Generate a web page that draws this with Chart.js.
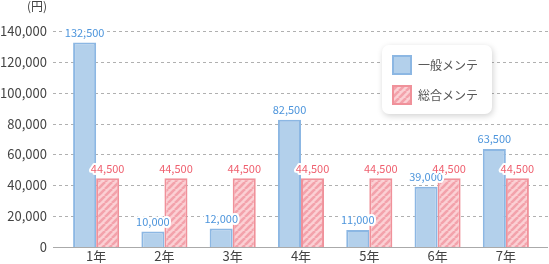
<!DOCTYPE html>
<html>
<head>
<meta charset="utf-8">
<script src="https://cdn.jsdelivr.net/npm/chart.js@4"></script>
<style>
  html, body { margin: 0; padding: 0; background: #fff; }
  #wrap { width: 549px; height: 264px; position: relative; }
</style>
</head>
<body>
<div id="wrap"><canvas id="chart"></canvas></div>
<script>
const years = ['1年', '2年', '3年', '4年', '5年', '6年', '7年'];
const generalCost = [132500, 10000, 12000, 82500, 11000, 39000, 63500];
const totalCost = [44500, 44500, 44500, 44500, 44500, 44500, 44500];
const seriesNames = ['一般メンテ', '総合メンテ'];
const yTicks = [0, 20000, 40000, 60000, 80000, 100000, 120000, 140000];

const FONT = "'Noto Sans CJK JP', 'Noto Sans', sans-serif";
const BLUE_FILL = '#b3d0eb';
const BLUE_LINE = '#8cb7e3';
const BLUE_TEXT = '#4d95dc';
const PINK_LINE = '#f0919a';
const PINK_TEXT = '#ef5f6e';

// diagonal stripe fill for the pink series
function makeStripes() {
  const c = document.createElement('canvas');
  c.width = 7; c.height = 7;
  const g = c.getContext('2d');
  g.fillStyle = '#fbd0d4';
  g.fillRect(0, 0, 7, 7);
  g.strokeStyle = '#f3a2ab';
  g.lineWidth = 2.6;
  for (let k = -7; k <= 14; k += 7) {
    g.beginPath();
    g.moveTo(k, 7);
    g.lineTo(k + 7, 0);
    g.stroke();
  }
  return g.createPattern(c, 'repeat');
}
const stripes = makeStripes();

const fmt = v => v.toLocaleString('en-US');

// dashed grid lines + base line, a bit wider than the bar area
const gridPlugin = {
  id: 'grid',
  beforeDatasetsDraw(chart) {
    const { ctx, scales: { y } } = chart;
    const x0 = 53, x1 = 548;
    ctx.save();
    ctx.strokeStyle = '#b0b0b0';
    ctx.lineWidth = 1;
    ctx.setLineDash([3, 3]);
    yTicks.forEach(t => {
      if (t === 0) return;
      const py = Math.round(y.getPixelForValue(t)) + 0.5;
      ctx.beginPath();
      ctx.moveTo(x0, py);
      ctx.lineTo(x1, py);
      ctx.stroke();
    });
    ctx.setLineDash([]);
    ctx.strokeStyle = '#aaaaaa';
    const by = Math.round(y.getPixelForValue(0)) + 0.5;
    ctx.beginPath();
    ctx.moveTo(x0, by);
    ctx.lineTo(x1, by);
    ctx.stroke();
    ctx.restore();
  }
};

// value labels above each bar, white halo
const labelPlugin = {
  id: 'valueLabels',
  afterDatasetsDraw(chart) {
    const { ctx } = chart;
    ctx.save();
    ctx.font = '11px ' + FONT;
    ctx.textAlign = 'center';
    ctx.textBaseline = 'middle';
    ctx.lineJoin = 'round';
    chart.data.datasets.forEach((ds, i) => {
      const meta = chart.getDatasetMeta(i);
      meta.data.forEach((bar, j) => {
        const txt = fmt(ds.data[j]);
        const ty = bar.y - 10;
        ctx.strokeStyle = '#fff';
        ctx.lineWidth = 4;
        ctx.strokeText(txt, bar.x, ty);
        ctx.fillStyle = ds.labelColor;
        ctx.fillText(txt, bar.x, ty);
      });
    });
    ctx.restore();
  }
};

// unit label and the floating legend box
const extrasPlugin = {
  id: 'extras',
  afterDraw(chart) {
    const { ctx } = chart;
    ctx.save();
    ctx.font = '12px ' + FONT;
    ctx.fillStyle = '#444';
    ctx.textAlign = 'left';
    ctx.textBaseline = 'middle';
    ctx.fillText('(円)', 27, 6);

    const bx = 382, by = 45, bw = 110, bh = 69;
    ctx.shadowColor = 'rgba(0,0,0,0.18)';
    ctx.shadowBlur = 6;
    ctx.shadowOffsetX = 1;
    ctx.shadowOffsetY = 2;
    ctx.fillStyle = '#fff';
    ctx.beginPath();
    ctx.roundRect(bx, by, bw, bh, 7);
    ctx.fill();
    ctx.shadowColor = 'transparent';

    chart.data.datasets.forEach((ds, i) => {
      const sy = 55 + i * 30;
      ctx.fillStyle = ds.backgroundColor;
      ctx.fillRect(392, sy, 20, 20);
      ctx.strokeStyle = ds.borderColor;
      ctx.lineWidth = 2;
      ctx.strokeRect(393, sy + 1, 18, 18);
      ctx.fillStyle = '#555';
      ctx.font = '12px ' + FONT;
      ctx.fillText(ds.label, 418, sy + 10);
    });
    ctx.restore();
  }
};

new Chart(document.getElementById('chart'), {
  type: 'bar',
  data: {
    labels: years,
    datasets: [
      {
        label: seriesNames[0],
        data: generalCost,
        backgroundColor: BLUE_FILL,
        borderColor: BLUE_LINE,
        borderWidth: 2,
        labelColor: BLUE_TEXT
      },
      {
        label: seriesNames[1],
        data: totalCost,
        backgroundColor: stripes,
        borderColor: PINK_LINE,
        borderWidth: 2,
        labelColor: PINK_TEXT
      }
    ]
  },
  options: {
    responsive: true,
    maintainAspectRatio: false,
    animation: false,
    layout: { padding: { top: 31, right: 9, left: 0, bottom: 0 } },
    categoryPercentage: 0.675,
    barPercentage: 1.0,
    plugins: {
      legend: { display: false },
      tooltip: { enabled: false }
    },
    scales: {
      x: {
        grid: { display: false, drawTicks: false },
        border: { display: false },
        ticks: {
          color: '#444',
          font: { family: FONT, size: 13 },
          padding: 1
        },
        afterFit(scale) { scale.height = 17; }
      },
      y: {
        min: 0,
        max: 140000,
        grid: { display: false, drawTicks: false },
        border: { display: false },
        afterBuildTicks(scale) { scale.ticks = yTicks.map(v => ({ value: v })); },
        ticks: {
          color: '#444',
          // tiny lineHeight so tick padding doesn't push the chart area up
          font: { family: FONT, size: 13, lineHeight: 0.2 },
          padding: 15,
          callback: v => fmt(v)
        },
        afterFit(scale) { scale.width = 62; }
      }
    }
  },
  plugins: [gridPlugin, labelPlugin, extrasPlugin]
});
</script>
</body>
</html>
